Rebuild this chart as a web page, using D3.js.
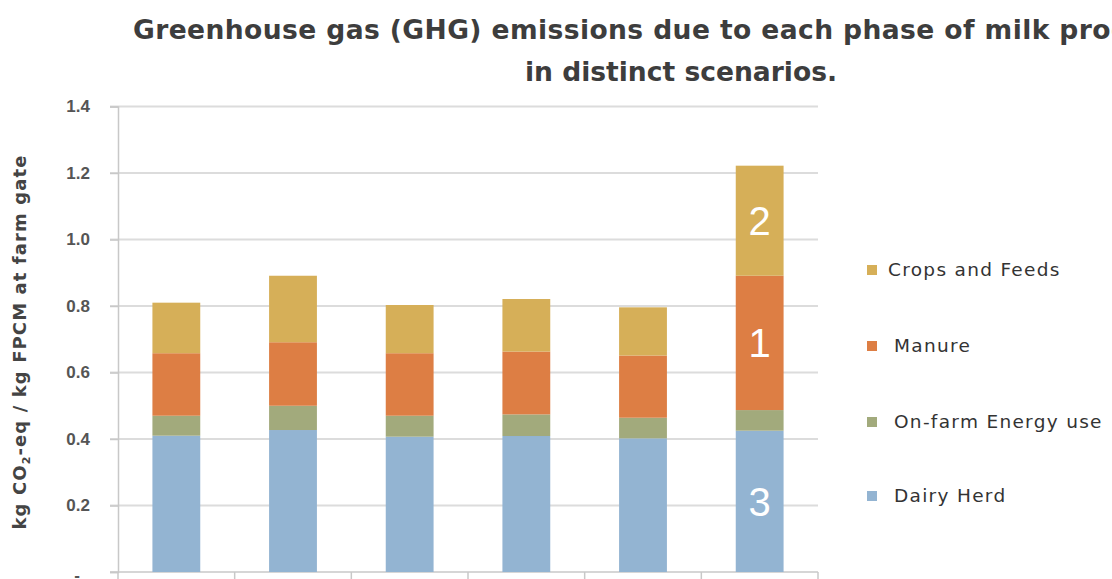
<!DOCTYPE html>
<html><head><meta charset="utf-8">
<script src="https://cdn.jsdelivr.net/npm/d3@7"></script>
<style>
body{margin:0;background:#fff;}
svg{display:block;font-family:"DejaVu Sans",sans-serif;}
</style></head>
<body><svg id="c" width="1112" height="579"></svg>
<script>
const scenarios = ["S1","S2","S3","S4","S5","S6"];
const dairyHerd = [0.41, 0.427, 0.407, 0.409, 0.402, 0.425];
const energyUse = [0.06, 0.073, 0.063, 0.065, 0.062, 0.062];
const manure    = [0.188, 0.191, 0.188, 0.189, 0.187, 0.404];
const cropsFeeds= [0.152, 0.200, 0.145, 0.158, 0.145, 0.331];
const seriesNames = ["Dairy Herd","On-farm Energy use","Manure","Crops and Feeds"];
const seriesColors = ["#93B4D2","#A2AA7C","#DD7E44","#D6AF58"];
const yTicks = [0,0.2,0.4,0.6,0.8,1.0,1.2,1.4];
const segLabels = [{series:3, idx:5, text:"2"},{series:2, idx:5, text:"1"},{series:0, idx:5, text:"3"}];
const legendOrder = [3,2,1,0];
const titleLine1 = "Greenhouse gas (GHG) emissions due to each phase of milk production";
const titleLine2 = "in distinct scenarios.";

const svg = d3.select("#c");
const x = d3.scaleBand().domain(scenarios).range([118,818]).paddingInner(0.59).paddingOuter(0.295);
const y = d3.scaleLinear().domain([0,1.4]).range([572,106.5]);

const rows = scenarios.map((s,i)=>({s, v0:dairyHerd[i], v1:energyUse[i], v2:manure[i], v3:cropsFeeds[i]}));
const stack = d3.stack().keys(["v0","v1","v2","v3"])(rows);

// gridlines
svg.append("g").selectAll("line").data(yTicks.filter(d=>d>0)).join("line")
  .attr("x1",110).attr("x2",818).attr("y1",d=>y(d)).attr("y2",d=>y(d))
  .attr("stroke","#dcdcdc").attr("stroke-width",2);

// y axis
const ya = svg.append("g").attr("transform","translate(118,0)")
  .call(d3.axisLeft(y).tickValues(yTicks).tickSize(8).tickFormat(d=>d===0?"-":d.toFixed(1)));
ya.select(".domain").attr("stroke","#c8c8c8").attr("stroke-width",1.5);
ya.selectAll(".tick line").attr("stroke","#c8c8c8").attr("stroke-width",1.5);
ya.selectAll(".tick text").attr("x",-28).attr("font-size",17).attr("font-weight","bold").attr("fill","#555");
ya.selectAll(".tick text").filter(d=>d===0).attr("x",-38).attr("dy","0.5em");

// x axis
const xa = svg.append("g").attr("transform","translate(0,572)");
xa.append("line").attr("x1",110).attr("x2",818).attr("stroke","#c8c8c8").attr("stroke-width",1.5);
const bounds = scenarios.map(s=>x(s)-x.step()*x.paddingInner()/2).concat([818]);
xa.selectAll("line.t").data(bounds).join("line").attr("class","t")
  .attr("x1",d=>d).attr("x2",d=>d).attr("y1",0).attr("y2",8).attr("stroke","#c8c8c8").attr("stroke-width",1.5);

// bars
svg.append("g").selectAll("g").data(stack).join("g").attr("fill",(d,i)=>seriesColors[i])
  .selectAll("rect").data(d=>d).join("rect")
  .attr("x",d=>x(d.data.s)).attr("width",x.bandwidth())
  .attr("y",d=>y(d[1])).attr("height",d=>y(d[0])-y(d[1]));

// segment labels
svg.append("g").selectAll("text").data(segLabels).join("text")
  .attr("x",d=>x(scenarios[d.idx])+x.bandwidth()/2)
  .attr("y",d=>{const seg=stack[d.series][d.idx];return y((seg[0]+seg[1])/2);})
  .attr("dy","0.36em").attr("text-anchor","middle")
  .attr("font-family","Liberation Sans, sans-serif").attr("font-size",40).attr("fill","#fff")
  .text(d=>d.text);

// y axis title
const yt = svg.append("text").attr("transform","translate(26,342) rotate(-90)")
  .attr("text-anchor","middle").attr("font-size",18).attr("font-weight","bold").attr("fill","#444")
  .attr("letter-spacing",1.1);
yt.append("tspan").text("kg CO");
yt.append("tspan").attr("font-size",11).attr("dy",4).text("2");
yt.append("tspan").attr("dy",-4).text("-eq / kg FPCM at farm gate");

// title: line 1 starts at x=133 and runs past the right edge
const t1 = svg.append("text").attr("x",133).attr("y",39)
  .attr("font-size",26).attr("font-weight","bold").attr("fill","#3d3d3d").attr("letter-spacing",0.4)
  .text(titleLine1);
const prefixLen = titleLine1.indexOf("milk pro") + "milk pro".length;
const endX = t1.node().getEndPositionOfChar ? t1.node().getEndPositionOfChar(prefixLen-1).x : 1112;
const fs = 26 * (1112-133) / (endX-133);
t1.attr("font-size",fs);
svg.append("text").attr("x",681).attr("y",81).attr("text-anchor","middle")
  .attr("font-size",fs).attr("font-weight","bold").attr("fill","#3d3d3d").attr("letter-spacing",0)
  .text(titleLine2);

// legend
const legY = [270,346,422,496];
const lg = svg.append("g").selectAll("g").data(legendOrder).join("g")
  .attr("transform",(d,i)=>`translate(867,${legY[i]})`);
lg.append("rect").attr("x",0).attr("y",-5).attr("width",10).attr("height",10).attr("fill",d=>seriesColors[d]);
lg.append("text").attr("x",(d,i)=>i===0?21:27).attr("dy","0.35em").attr("font-size",18.5).attr("letter-spacing",1.3)
  .attr("fill","#333").text(d=>seriesNames[d]);
</script></body></html>
